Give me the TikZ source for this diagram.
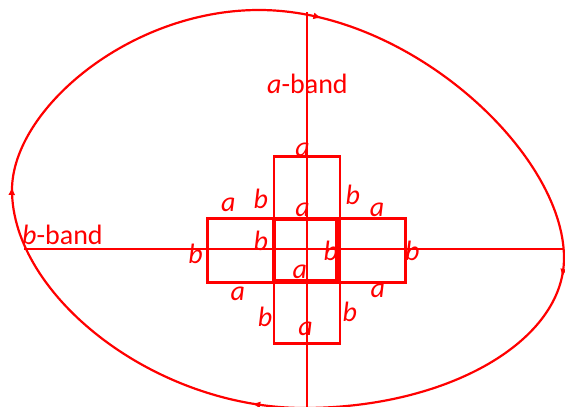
\documentclass[tikz,border=0pt]{standalone}
\usepackage{fontspec}
\setmainfont{Carlito}
\usetikzlibrary{arrows.meta,decorations.markings}
\definecolor{bandred}{RGB}{255,0,0}

\begin{document}
\begin{tikzpicture}[x=1pt,y=-1pt,
  band/.style={bandred, line width=2.8pt},
  sq/.style={bandred, line width=2.8pt},
  loopline/.style={bandred, line width=2.2pt, postaction={decorate},
    decoration={markings,
      mark=at position #1 with {\arrow{Latex[length=8pt,width=7pt]}}}},
  lab/.style={text=bandred, font=\fontsize{28}{33}\selectfont, inner sep=0pt, anchor=base}]
  \useasboundingbox (0,0) rectangle (565,407);
  % boundary loop, four quarters
  \coordinate (ltop) at (259,10);
  \coordinate (lright) at (564,258);
  \coordinate (lbot) at (304,408);
  \coordinate (lleft) at (12,190);
  \draw[loopline=63pt] (ltop) .. controls (409,10) and (564,153) .. (lright);
  \draw[loopline=19pt] (lright) .. controls (564,341) and (448,408) .. (lbot);
  \draw[loopline=52pt] (lbot) .. controls (154,408) and (12,295) .. (lleft);
  \draw[loopline=3pt] (lleft) .. controls (12,110) and (129,10) .. (ltop);
  % band ends
  \coordinate (atop) at (307,12);
  \coordinate (abot) at (307,407);
  \coordinate (bleft) at (24,249);
  \coordinate (bright) at (564,249);
  % rectangles
  \draw[sq] (207.7,218.7) rectangle (405.3,282.7);
  \draw[sq] (274,156.7) rectangle (340,343.3);
  \draw[sq, line width=3.4pt] (274,219) rectangle (337,281);
  % bands
  \draw[band] (atop) -- (abot);
  \draw[band, line width=2.4pt] (bleft) -- (bright);
  \node[lab, anchor=base west] (aband) at (267,93) {\textit{a}-band};
  \node[lab, anchor=base west] (bband) at (22,244) {\textit{b}-band};
  % edge labels
  \node[lab] (atop1) at (302.5,156.7) {\textit{a}};
  \node[lab] (aul) at (228.3,211) {\textit{a}};
  \node[lab] (bul) at (260.7,208.3) {\textit{b}};
  \node[lab] (ain) at (302.5,216) {\textit{a}};
  \node[lab] (bur) at (352.8,204) {\textit{b}};
  \node[lab] (aur) at (377,216.7) {\textit{a}};
  \node[lab] (bol) at (195.5,263.3) {\textit{b}};
  \node[lab] (bil) at (260.7,250) {\textit{b}};
  \node[lab] (bir) at (330.7,260) {\textit{b}};
  \node[lab] (bor) at (412.3,260) {\textit{b}};
  \node[lab] (acl) at (299.7,278.3) {\textit{a}};
  \node[lab] (all) at (237.8,300) {\textit{a}};
  \node[lab] (alr) at (377.8,297.3) {\textit{a}};
  \node[lab] (bll) at (265,326.7) {\textit{b}};
  \node[lab] (blr) at (349.7,321.7) {\textit{b}};
  \node[lab] (abot1) at (305.5,335) {\textit{a}};
\end{tikzpicture}
\end{document}
